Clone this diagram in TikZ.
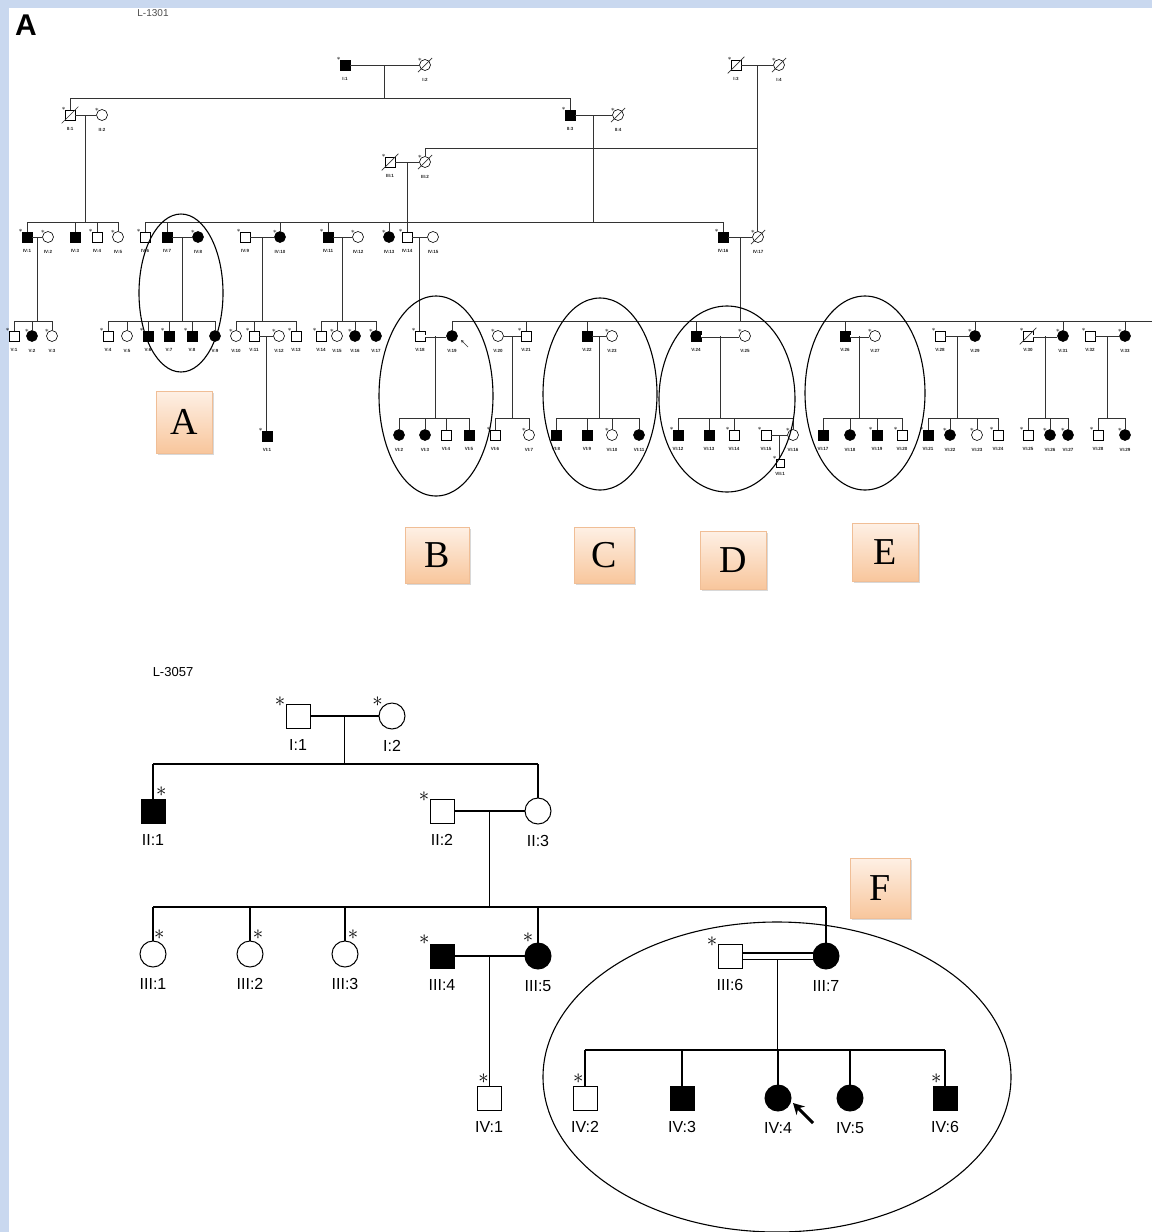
\documentclass[tikz,border=0pt]{standalone}
\usepackage{fontspec}
\setmainfont{Liberation Sans}
\setsansfont{Liberation Sans}
\newfontfamily\boxfont{Liberation Serif}
\usetikzlibrary{calc,shadows,arrows.meta}

\definecolor{bgblue}{RGB}{201,216,239}
\definecolor{boxtop}{RGB}{254,240,229}
\definecolor{boxbot}{RGB}{248,198,156}
\definecolor{boxline}{RGB}{240,190,150}

\tikzset{
  m/.style={draw, rectangle, minimum size=10pt, inner sep=0pt, fill=white, line width=0.6pt},
  f/.style={draw, circle, minimum size=11pt, inner sep=0pt, fill=white, line width=0.6pt},
  aff/.style={fill=black},
  st/.style={label={[font=\fontsize{7}{7}\selectfont, inner sep=0pt, anchor=center, label distance=1.5pt]135:$\ast$}},
  tl/.style={font=\fontsize{4.5}{5}\selectfont\bfseries, text=black!88, inner sep=0pt, label distance=7pt},
  ln/.style={line width=0.7pt, black!80},
  dbl/.style={ln, double, double distance=1.6pt},
  oval/.style={line width=1.1pt},
  lettbox/.style={draw=boxline, top color=boxtop, bottom color=boxbot, inner sep=0pt,
    drop shadow={shadow xshift=2pt, shadow yshift=-2pt, opacity=0.3},
    font=\boxfont\fontsize{38}{38}\selectfont},
  bm/.style={draw, rectangle, minimum size=24pt, inner sep=0pt, fill=white, line width=1pt},
  bf/.style={draw, circle, minimum size=26pt, inner sep=0pt, fill=white, line width=1pt},
  bl/.style={font=\fontsize{16}{16}\selectfont, inner sep=0pt, label distance=11pt},
  bstar/.style={font=\fontsize{22}{22}\selectfont, inner sep=0pt, anchor=center, label distance=7pt},
  bst/.style={label={[bstar]#1:$\ast$}},
  bln/.style={line width=1.5pt},
}

\newcommand{\slashit}[1]{\draw[ln] ([shift={(-3,3)}]#1.south west) -- ([shift={(3,-3)}]#1.north east);}

\begin{document}
\begin{tikzpicture}[x=1pt,y=-1pt]
\useasboundingbox (0,0) rectangle (1152,1232);
\fill[bgblue] (0,0) rectangle (1152,1232);
\fill[white] (9,8) rectangle (1152,1232);

\node[font=\fontsize{30}{30}\selectfont\bfseries, anchor=west, inner sep=0pt] (panelA) at (15,25) {A};
\node[font=\fontsize{10}{10}\selectfont, text=black!70] (titleA) at (153,13) {L-1301};
\node[font=\fontsize{13}{13}\selectfont] (titleB) at (173,672) {L-3057};

% generation I
\node[m,aff,st,label={[tl]below:I:1}] (I1) at (345,65) {};
\node[f,st,label={[tl]below:I:2}] (I2) at (425,65) {};
\node[m,st,label={[tl]below:I:3}] (I3) at (736,65) {};
\node[f,st,label={[tl]below:I:4}] (I4) at (779,65) {};
% generation II
\node[m,st,label={[tl]below:II:1}] (II1) at (70,115) {};
\node[f,st,label={[tl]below:II:2}] (II2) at (102,115) {};
\node[m,aff,st,label={[tl]below:II:3}] (II3) at (570,115) {};
\node[f,st,label={[tl]below:II:4}] (II4) at (618,115) {};
% generation III
\node[m,st,label={[tl]below:III:1}] (III1) at (390,162) {};
\node[f,st,label={[tl]below:III:2}] (III2) at (425,162) {};
% generation IV
\node[m,aff,st,label={[tl]below:IV:1}] (IV1) at (27,237) {};
\node[f,st,label={[tl]below:IV:2}] (IV2) at (48,237) {};
\node[m,aff,label={[tl]below:IV:3}] (IV3) at (75,237) {};
\node[m,st,label={[tl]below:IV:4}] (IV4) at (97,237) {};
\node[f,st,label={[tl]below:IV:5}] (IV5) at (118,237) {};
\node[m,st,label={[tl]below:IV:6}] (IV6) at (145,237) {};
\node[m,aff,label={[tl]below:IV:7}] (IV7) at (167,237) {};
\node[f,aff,st,label={[tl]below:IV:8}] (IV8) at (198,237) {};
\node[m,st,label={[tl]below:IV:9}] (IV9) at (245,237) {};
\node[f,aff,st,label={[tl]below:IV:10}] (IV10) at (280,237) {};
\node[m,aff,st,label={[tl]below:IV:11}] (IV11) at (328,237) {};
\node[f,st,label={[tl]below:IV:12}] (IV12) at (358,237) {};
\node[f,aff,st,label={[tl]below:IV:13}] (IV13) at (389,237) {};
\node[m,st,label={[tl]below:IV:14}] (IV14) at (407,237) {};
\node[f,label={[tl]below:IV:15}] (IV15) at (433,237) {};
\node[m,aff,st,label={[tl]below:IV:16}] (IV16) at (723,237) {};
\node[f,st,label={[tl]below:IV:17}] (IV17) at (758,237) {};
% generation V
\node[m,st,label={[tl]below:V:1}] (V1) at (14,336) {};
\node[f,aff,st,label={[tl]below:V:2}] (V2) at (32,336) {};
\node[f,st,label={[tl]below:V:3}] (V3) at (52,336) {};
\node[m,st,label={[tl]below:V:4}] (V4) at (108,336) {};
\node[f,label={[tl]below:V:5}] (V5) at (127,336) {};
\node[m,aff,st,label={[tl]below:V:6}] (V6) at (148,336) {};
\node[m,aff,st,label={[tl]below:V:7}] (V7) at (169,336) {};
\node[m,aff,st,label={[tl]below:V:8}] (V8) at (192,336) {};
\node[f,aff,label={[tl]below:V:9}] (V9) at (215,336) {};
\node[f,st,label={[tl]below:V:10}] (V10) at (236,336) {};
\node[m,st,label={[tl]below:V:11}] (V11) at (254,336) {};
\node[f,st,label={[tl]below:V:12}] (V12) at (279,336) {};
\node[m,st,label={[tl]below:V:13}] (V13) at (296,336) {};
\node[m,st,label={[tl]below:V:14}] (V14) at (321,336) {};
\node[f,st,label={[tl]below:V:15}] (V15) at (337,336) {};
\node[f,aff,st,label={[tl]below:V:16}] (V16) at (355,336) {};
\node[f,aff,st,label={[tl]below:V:17}] (V17) at (376,336) {};
\node[m,st,label={[tl]below:V:18}] (V18) at (420,336) {};
\node[f,aff,label={[tl]below:V:19}] (V19) at (452,336) {};
\node[f,st,label={[tl]below:V:20}] (V20) at (498,336) {};
\node[m,st,label={[tl]below:V:21}] (V21) at (526,336) {};
\node[m,aff,label={[tl]below:V:22}] (V22) at (587,336) {};
\node[f,st,label={[tl]below:V:23}] (V23) at (612,336) {};
\node[m,aff,label={[tl]below:V:24}] (V24) at (696,336) {};
\node[f,st,label={[tl]below:V:25}] (V25) at (745,336) {};
\node[m,aff,label={[tl]below:V:26}] (V26) at (845,336) {};
\node[f,st,label={[tl]below:V:27}] (V27) at (875,336) {};
\node[m,st,label={[tl]below:V:28}] (V28) at (940,336) {};
\node[f,aff,st,label={[tl]below:V:29}] (V29) at (975,336) {};
\node[m,st,label={[tl]below:V:30}] (V30) at (1028,336) {};
\node[f,aff,st,label={[tl]below:V:31}] (V31) at (1063,336) {};
\node[m,st,label={[tl]below:V:32}] (V32) at (1090,336) {};
\node[f,aff,st,label={[tl]below:V:33}] (V33) at (1125,336) {};
% generation VI
\node[m,aff,st,label={[tl]below:VI:1}] (VI1) at (267,436) {};
\node[f,aff,label={[tl]below:VI:2}] (VI2) at (399,435) {};
\node[f,aff,label={[tl]below:VI:3}] (VI3) at (425,435) {};
\node[m,label={[tl]below:VI:4}] (VI4) at (446,435) {};
\node[m,aff,label={[tl]below:VI:5}] (VI5) at (469,435) {};
\node[m,st,label={[tl]below:VI:6}] (VI6) at (495,435) {};
\node[f,st,label={[tl]below:VI:7}] (VI7) at (529,435) {};
\node[m,aff,label={[tl]below:VI:8}] (VI8) at (556,435) {};
\node[m,aff,label={[tl]below:VI:9}] (VI9) at (587,435) {};
\node[f,st,label={[tl]below:VI:10}] (VI10) at (612,435) {};
\node[f,aff,label={[tl]below:VI:11}] (VI11) at (639,435) {};
\node[m,aff,st,label={[tl]below:VI:12}] (VI12) at (678,435) {};
\node[m,aff,label={[tl]below:VI:13}] (VI13) at (709,435) {};
\node[m,st,label={[tl]below:VI:14}] (VI14) at (734,435) {};
\node[m,st,label={[tl]below:VI:15}] (VI15) at (766,435) {};
\node[f,st,label={[tl]below:VI:16}] (VI16) at (793,435) {};
\node[m,aff,label={[tl]below:VI:17}] (VI17) at (823,435) {};
\node[f,aff,label={[tl]below:VI:18}] (VI18) at (850,435) {};
\node[m,aff,st,label={[tl]below:VI:19}] (VI19) at (877,435) {};
\node[m,st,label={[tl]below:VI:20}] (VI20) at (902,435) {};
\node[m,aff,st,label={[tl]below:VI:21}] (VI21) at (928,435) {};
\node[f,aff,st,label={[tl]below:VI:22}] (VI22) at (950,435) {};
\node[f,st,label={[tl]below:VI:23}] (VI23) at (977,435) {};
\node[m,st,label={[tl]below:VI:24}] (VI24) at (998,435) {};
\node[m,st,label={[tl]below:VI:25}] (VI25) at (1028,435) {};
\node[f,aff,st,label={[tl]below:VI:26}] (VI26) at (1050,435) {};
\node[f,aff,st,label={[tl]below:VI:27}] (VI27) at (1068,435) {};
\node[m,st,label={[tl]below:VI:28}] (VI28) at (1098,435) {};
\node[f,aff,st,label={[tl]below:VI:29}] (VI29) at (1125,435) {};
% generation VII
\node[m,st,minimum size=8pt,path picture={\fill (path picture bounding box.center) circle (1.3pt);},label={[tl,label distance=5pt]below:VII:1}] (VII1) at (780,463) {};

\slashit{I2} \slashit{I3} \slashit{I4} \slashit{II1} \slashit{II4}
\slashit{III1} \slashit{III2} \slashit{IV17} \slashit{V30}

% lines of generations I to IV
\draw[ln] (I1) -- (I2) coordinate[midway] (uI12);
\coordinate (sII) at (0,98);
\draw[ln] (uI12) -- (uI12 |- sII);
\draw[ln] (II1.north |- sII) -- (II3.north |- sII);
\foreach \c in {II1,II3} \draw[ln] (\c.north) -- (\c.north |- sII);

\draw[ln] (I3) -- (I4) coordinate[midway] (uI34);
\coordinate (sIII) at (0,148);
\draw[ln] (uI34) -- (uI34 |- IV17.north);
\draw[ln] (III2.north) -- (III2.north |- sIII) -- (uI34 |- sIII);

\coordinate (sIV) at (0,222);
\draw[ln] (II1) -- (II2) coordinate[midway] (uII12);
\draw[ln] (uII12) -- (uII12 |- sIV);
\draw[ln] (IV1.north |- sIV) -- (IV5.north |- sIV);
\foreach \c in {IV1,IV3,IV4,IV5} \draw[ln] (\c.north) -- (\c.north |- sIV);

\draw[ln] (II3) -- (II4) coordinate[midway] (uII34);
\draw[ln] (uII34) -- (uII34 |- sIV);
\draw[ln] (IV6.north |- sIV) -- (IV16.north |- sIV);
\foreach \c in {IV6,IV7,IV10,IV11,IV13,IV16} \draw[ln] (\c.north) -- (\c.north |- sIV);

\draw[ln] (III1) -- (III2) coordinate[midway] (uIII12);
\draw[ln] (uIII12) -- (uIII12 |- IV14.north);

% lines of generation IV to V
\coordinate (sV) at (0,321);
\coordinate (sVend) at (1152,321);
\draw[ln] (IV1) -- (IV2) coordinate[midway] (uIV1);
\draw[ln] (uIV1) -- (uIV1 |- sV);
\draw[ln] (V1.north |- sV) -- (V3.north |- sV);
\foreach \c in {V1,V2,V3} \draw[ln] (\c.north) -- (\c.north |- sV);

\draw[ln] (IV7) -- (IV8) coordinate[midway] (uIV7);
\draw[ln] (uIV7) -- (uIV7 |- sV);
\draw[ln] (V4.north |- sV) -- (V9.north |- sV);
\foreach \c in {V4,V5,V6,V7,V8,V9} \draw[ln] (\c.north) -- (\c.north |- sV);

\draw[ln] (IV9) -- (IV10) coordinate[midway] (uIV9);
\draw[ln] (uIV9) -- (uIV9 |- sV);
\draw[ln] (V10.north |- sV) -- (V13.north |- sV);
\foreach \c in {V10,V11,V13} \draw[ln] (\c.north) -- (\c.north |- sV);

\draw[ln] (IV11) -- (IV12) coordinate[midway] (uIV11);
\draw[ln] (uIV11) -- (uIV11 |- sV);
\draw[ln] (V14.north |- sV) -- (V17.north |- sV);
\foreach \c in {V14,V15,V16,V17} \draw[ln] (\c.north) -- (\c.north |- sV);

\draw[ln] (IV14) -- (IV15) coordinate[midway] (uIV14);
\draw[ln] (uIV14) -- (uIV14 |- V18.north);

\draw[ln] (IV16) -- (IV17) coordinate[midway] (uIV16);
\draw[ln] (uIV16) -- (uIV16 |- sV);
\draw[ln] (V19.north |- sV) -- (sVend);
\foreach \c in {V19,V21,V22,V24,V26,V29,V31,V33} \draw[ln] (\c.north) -- (\c.north |- sV);

% lines of generation V to VII
\coordinate (sVI) at (0,418);
\draw[ln] (V11) -- (V12) coordinate[midway] (uV11);
\draw[ln] (uV11) -- (uV11 |- VI1.north);

\draw[dbl] (V18) -- (V19) coordinate[midway] (uV18);
\draw[ln] (uV18) -- (uV18 |- sVI);
\draw[ln] (VI2.north |- sVI) -- (VI5.north |- sVI);
\foreach \c in {VI2,VI3,VI4,VI5} \draw[ln] (\c.north) -- (\c.north |- sVI);

\draw[ln] (V20) -- (V21) coordinate[midway] (uV20);
\draw[ln] (uV20) -- (uV20 |- sVI);
\draw[ln] (VI6.north |- sVI) -- (VI7.north |- sVI);
\foreach \c in {VI6,VI7} \draw[ln] (\c.north) -- (\c.north |- sVI);

\draw[ln] (V22) -- (V23) coordinate[midway] (uV22);
\draw[ln] (uV22) -- (uV22 |- sVI);
\draw[ln] (VI8.north |- sVI) -- (VI11.north |- sVI);
\foreach \c in {VI8,VI9,VI10,VI11} \draw[ln] (\c.north) -- (\c.north |- sVI);

\draw[dbl] (V24) -- (V25) coordinate[midway] (uV24);
\draw[ln] (uV24) -- (uV24 |- sVI);
\draw[ln] (VI12.north |- sVI) -- (VI16.north |- sVI);
\foreach \c in {VI12,VI13,VI14,VI16} \draw[ln] (\c.north) -- (\c.north |- sVI);

\draw[dbl] (V26) -- (V27) coordinate[midway] (uV26);
\draw[ln] (uV26) -- (uV26 |- sVI);
\draw[ln] (VI17.north |- sVI) -- (VI20.north |- sVI);
\foreach \c in {VI17,VI18,VI19,VI20} \draw[ln] (\c.north) -- (\c.north |- sVI);

\draw[ln] (V28) -- (V29) coordinate[midway] (uV28);
\draw[ln] (uV28) -- (uV28 |- sVI);
\draw[ln] (VI21.north |- sVI) -- (VI24.north |- sVI);
\foreach \c in {VI21,VI22,VI23,VI24} \draw[ln] (\c.north) -- (\c.north |- sVI);

\draw[dbl] (V30) -- (V31) coordinate[midway] (uV30);
\draw[ln] (uV30) -- (uV30 |- sVI);
\draw[ln] (VI25.north |- sVI) -- (VI27.north |- sVI);
\foreach \c in {VI25,VI26,VI27} \draw[ln] (\c.north) -- (\c.north |- sVI);

\draw[ln] (V32) -- (V33) coordinate[midway] (uV32);
\draw[ln] (uV32) -- (uV32 |- sVI);
\draw[ln] (VI28.north |- sVI) -- (VI29.north |- sVI);
\foreach \c in {VI28,VI29} \draw[ln] (\c.north) -- (\c.north |- sVI);

\draw[ln] (VI15) -- (VI16) coordinate[midway] (uVI15);
\draw[ln] (uVI15) -- (uVI15 |- VII1.north);

% proband arrow
\coordinate (pa1) at (468,347);
\coordinate (pa2) at (461,340);
\draw[ln, -{Stealth[length=3pt,width=3pt]}] (pa1) -- (pa2);

% ellipses and letter boxes
\draw[oval] (181,293) ellipse [x radius=42, y radius=79];
\draw[oval] (436,396) ellipse [x radius=57, y radius=100];
\draw[oval] (600,394) ellipse [x radius=57, y radius=96];
\draw[oval] (727,399) ellipse [x radius=68, y radius=93];
\draw[oval] (865,393) ellipse [x radius=60, y radius=97];

\node[lettbox, minimum width=56pt, minimum height=62pt] (boxA) at (184,422) {A};
\node[lettbox, minimum width=64pt, minimum height=56pt] (boxB) at (437,555) {B};
\node[lettbox, minimum width=60pt, minimum height=56pt] (boxC) at (604,555) {C};
\node[lettbox, minimum width=66pt, minimum height=58pt] (boxD) at (733,560) {D};
\node[lettbox, minimum width=66pt, minimum height=58pt] (boxE) at (885,552) {E};
\node[lettbox, minimum width=60pt, minimum height=60pt] (boxF) at (880,888) {F};

% second family
\node[bm,bst=141,label={[bl]below:I:1}] (bI1) at (298,716) {};
\node[bf,bst=135,label={[bl]below:I:2}] (bI2) at (392,716) {};
\node[bm,aff,bst=66,label={[bl]below:II:1}] (bII1) at (153,811) {};
\node[bm,bst=141,label={[bl]below:II:2}] (bII2) at (442,811) {};
\node[bf,label={[bl]below:II:3}] (bII3) at (538,811) {};
\node[bf,bst=72,label={[bl]below:III:1}] (bIII1) at (153,954) {};
\node[bf,bst=67,label={[bl]below:III:2}] (bIII2) at (250,954) {};
\node[bf,bst=67,label={[bl]below:III:3}] (bIII3) at (345,954) {};
\node[bm,aff,bst=138,label={[bl]below:III:4}] (bIII4) at (442,956) {};
\node[bf,aff,bst=119,label={[bl]below:III:5}] (bIII5) at (538,956) {};
\node[bm,bst=141,label={[bl]below:III:6}] (bIII6) at (730,956) {};
\node[bf,aff,label={[bl]below:III:7}] (bIII7) at (826,956) {};
\node[bm,bst=106,label={[bl]below:IV:1}] (bIV1) at (489,1098) {};
\node[bm,bst=109,label={[bl]below:IV:2}] (bIV2) at (585,1098) {};
\node[bm,aff,label={[bl]below:IV:3}] (bIV3) at (682,1098) {};
\node[bf,aff,label={[bl]below:IV:4}] (bIV4) at (778,1098) {};
\node[bf,aff,label={[bl]below:IV:5}] (bIV5) at (850,1098) {};
\node[bm,aff,bst=115,label={[bl]below:IV:6}] (bIV6) at (945,1098) {};

\draw[bln] (bI1) -- (bI2) coordinate[midway] (ubI);
\coordinate (sbII) at (0,764);
\draw[bln] (ubI) -- (ubI |- sbII);
\draw[bln] (bII1.north |- sbII) -- (bII3.north |- sbII);
\foreach \c in {bII1,bII3} \draw[bln] (\c.north) -- (\c.north |- sbII);

\draw[bln] (bII2) -- (bII3) coordinate[midway] (ubII);
\coordinate (sbIII) at (0,907);
\draw[bln] (ubII) -- (ubII |- sbIII);
\draw[bln] (bIII1.north |- sbIII) -- (bIII7.north |- sbIII);
\foreach \c in {bIII1,bIII2,bIII3,bIII5,bIII7} \draw[bln] (\c.north) -- (\c.north |- sbIII);

\draw[bln] (bIII4) -- (bIII5) coordinate[midway] (ubIII45);
\draw[bln] (ubIII45) -- (ubIII45 |- bIV1.north);

\draw[bln, double, double distance=5pt] (bIII6) -- (bIII7) coordinate[midway] (ubIII67);
\coordinate (sbIV) at (0,1050);
\draw[bln] ([yshift=-3.5pt]ubIII67) -- (ubIII67 |- sbIV);
\draw[bln] (bIV2.north |- sbIV) -- (bIV6.north |- sbIV);
\foreach \c in {bIV2,bIV3,bIV4,bIV5,bIV6} \draw[bln] (\c.north) -- (\c.north |- sbIV);

\coordinate (pb1) at (813,1123);
\coordinate (pb2) at (793,1103);
\draw[line width=3pt, -{Stealth[length=11pt,width=12pt]}] (pb1) -- (pb2);

\draw[oval] (777,1077) ellipse [x radius=234, y radius=155];
\end{tikzpicture}
\end{document}
